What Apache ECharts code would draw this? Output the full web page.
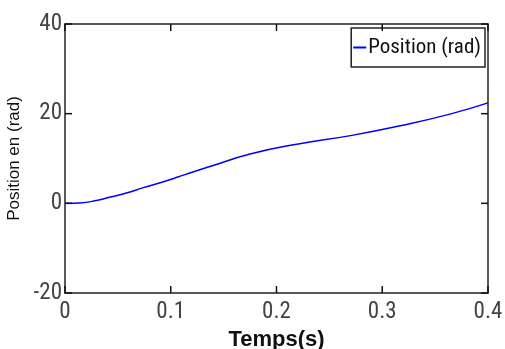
<!DOCTYPE html>
<html>
<head>
<meta charset="utf-8">
<script src="https://cdn.jsdelivr.net/npm/echarts@6/dist/echarts.min.js"></script>
<style>
  html, body { margin: 0; padding: 0; background: #fff; }
  #main { width: 505px; height: 349px; }
</style>
</head>
<body>
<div id="main"></div>
<script>
// temps (s) and position (rad)
var temps = [0, 0.014, 0.027, 0.043, 0.058, 0.074, 0.090, 0.106, 0.121, 0.137, 0.175, 0.222, 0.270, 0.317, 0.364, 0.4];
var position = [0, 0.1, 0.5, 1.4, 2.3, 3.5, 4.6, 5.8, 7.0, 8.2, 11.0, 13.3, 15.1, 17.3, 19.9, 22.4];
var xTicks = [0, 0.1, 0.2, 0.3, 0.4];
var yTicks = [-20, 0, 20, 40];

var narrow = '"Liberation Sans Narrow", "Roboto Condensed", "Liberation Sans", Arial, sans-serif';

var chart = echarts.init(document.getElementById('main'));

var line_data = temps.map(function (t, i) { return [t, position[i]]; });

// inward ticks on all four sides, placed through the axis scales
var tick_data = [];
xTicks.forEach(function (v) { tick_data.push([0, v]); });
yTicks.forEach(function (v) { tick_data.push([1, v]); });

var TICK = 7;
function renderTick(params, api) {
  var kind = api.value(0), v = api.value(1);
  var style = { stroke: '#111', lineWidth: 1.5 };
  var a, b;
  if (kind === 0) {
    a = api.coord([v, -20]);
    b = api.coord([v, 40]);
    return { type: 'group', children: [
      { type: 'line', shape: { x1: a[0], y1: a[1], x2: a[0], y2: a[1] - TICK }, style: style },
      { type: 'line', shape: { x1: b[0], y1: b[1], x2: b[0], y2: b[1] + TICK }, style: style }
    ] };
  }
  a = api.coord([0, v]);
  b = api.coord([0.4, v]);
  return { type: 'group', children: [
    { type: 'line', shape: { x1: a[0], y1: a[1], x2: a[0] + TICK, y2: a[1] }, style: style },
    { type: 'line', shape: { x1: b[0], y1: b[1], x2: b[0] - TICK, y2: b[1] }, style: style }
  ] };
}

function axisStyle() { return { show: true, onZero: false, lineStyle: { color: '#222', width: 1.5 } }; }

var option = {
  animation: false,
  backgroundColor: '#fff',
  grid: { left: 65, top: 24, right: 17, bottom: 56, containLabel: false, outerBoundsMode: 'none' },
  legend: {
    right: 20,
    top: 28,
    padding: [9, 4, 9, 2],
    itemGap: 0,
    itemWidth: 13,
    itemHeight: 2,
    icon: 'rect',
    borderColor: '#222',
    borderWidth: 1.5,
    textStyle: { fontFamily: narrow, fontSize: 21, color: '#111', padding: [0, 0, 0, -3] },
    data: ['Position (rad)']
  },
  xAxis: [
    {
      type: 'value',
      min: 0, max: 0.4, interval: 0.1,
      name: 'Temps(s)',
      nameLocation: 'middle',
      nameGap: 30,
      nameTextStyle: { fontFamily: '"Liberation Sans", Arial, sans-serif', fontSize: 22, fontWeight: 'bold', color: '#111' },
      axisLine: axisStyle(),
      axisTick: { show: false },
      splitLine: { show: false },
      axisLabel: {
        margin: 8,
        fontFamily: narrow, fontSize: 23, color: '#444',
        formatter: function (v) { return xTicks.indexOf(v) >= 0 ? String(v) : ''; }
      }
    },
    {
      type: 'value', position: 'top',
      min: 0, max: 0.4, interval: 0.1,
      axisLine: axisStyle(), axisTick: { show: false },
      axisLabel: { show: false }, splitLine: { show: false }
    }
  ],
  yAxis: [
    {
      type: 'value',
      min: -20, max: 40, interval: 20,
      name: 'Position en (rad)',
      nameLocation: 'middle',
      nameGap: 32,
      nameTextStyle: { fontFamily: '"Liberation Sans", Arial, sans-serif', fontSize: 17, color: '#111' },
      axisLine: axisStyle(),
      axisTick: { show: false },
      splitLine: { show: false },
      axisLabel: {
        margin: 3,
        fontFamily: narrow, fontSize: 23, color: '#444',
        formatter: function (v) { return yTicks.indexOf(v) >= 0 ? String(v) : ''; }
      }
    },
    {
      type: 'value', position: 'right',
      min: -20, max: 40, interval: 20,
      axisLine: axisStyle(), axisTick: { show: false },
      axisLabel: { show: false }, splitLine: { show: false }
    }
  ],
  series: [
    {
      name: 'Position (rad)',
      type: 'line',
      smooth: true,
      showSymbol: false,
      symbol: 'none',
      color: '#0000ff',
      lineStyle: { color: '#0000ff', width: 1.5 },
      data: line_data
    },
    {
      name: 'ticks',
      type: 'custom',
      silent: true,
      clip: false,
      z: 5,
      renderItem: renderTick,
      data: tick_data
    }
  ]
};

chart.setOption(option);
</script>
</body>
</html>
